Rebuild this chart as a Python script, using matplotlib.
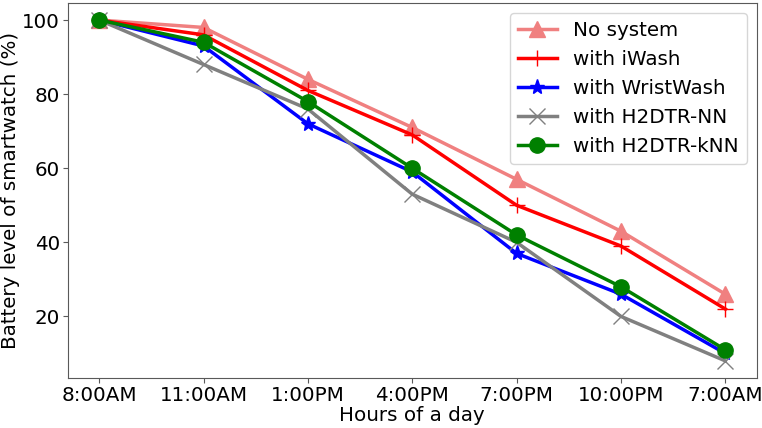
import numpy as np
import matplotlib.pyplot as plt

hours = ['8:00AM', '11:00AM', '1:00PM', '4:00PM', '7:00PM', '10:00PM', '7:00AM']
no_system = [100, 98, 84, 71, 57, 43, 26]
iwash = [100, 96, 81, 69, 50, 39, 22]
wristwash = [100, 93, 72, 59, 37, 26, 10]
h2dtr_nn = [100, 88, 76, 53, 40, 20, 8]
h2dtr_knn = [100, 94, 78, 60, 42, 28, 11]

x = np.arange(len(hours))
fs = 14.3

fig, ax = plt.subplots(figsize=(7.62, 4.28), dpi=100)
ax.plot(x, no_system, color='lightcoral', marker='^', markersize=11, linewidth=2.5, label='No system')
ax.plot(x, iwash, color='red', marker='+', markersize=12, linewidth=2.5, label='with iWash')
ax.plot(x, wristwash, color='blue', marker='*', markersize=11, linewidth=2.5, label='with WristWash')
ax.plot(x, h2dtr_nn, color='gray', marker='x', markersize=12, linewidth=2.5, label='with H2DTR-NN')
ax.plot(x, h2dtr_knn, color='green', marker='o', markersize=11, linewidth=2.5, label='with H2DTR-kNN')

ax.set_xticks(x)
ax.set_xticklabels(hours)
ax.tick_params(labelsize=fs, pad=2, color='0.35')
for sp in ax.spines.values():
    sp.set_color('0.35')
ax.set_xlabel('Hours of a day', fontsize=fs, labelpad=1)
ax.set_ylabel('Battery level of smartwatch (%)', fontsize=fs, labelpad=2)
ax.legend(fontsize=fs, loc='upper right')

plt.subplots_adjust(left=0.089, right=0.993, top=0.993, bottom=0.117)
plt.savefig('out.png')
